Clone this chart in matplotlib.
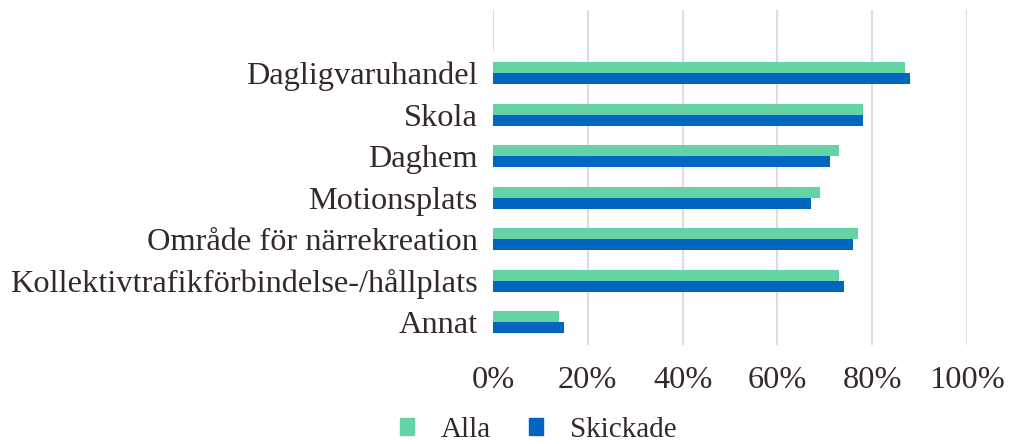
import matplotlib
matplotlib.use("Agg")
import matplotlib.pyplot as plt
from matplotlib.patches import Patch
import numpy as np

categories = ["Dagligvaruhandel", "Skola", "Daghem", "Motionsplats",
              "Område för närrekreation", "Kollektivtrafikförbindelse-/hållplats",
              "Annat"]
alla = [87, 78, 73, 69, 77, 73, 14]
skickade = [88, 78, 71, 67, 76, 74, 15]
xticks = [0, 20, 40, 60, 80, 100]
xtick_labels = ["0%", "20%", "40%", "60%", "80%", "100%"]
series_names = ["Alla", "Skickade"]

col_alla = "#64d3a6"
col_skick = "#0066c0"
text_col = "#33282a"
grid_col = "#e6d8dc"
fs = 23.3

plt.rcParams["font.family"] = ["Liberation Serif", "DejaVu Serif"]

W, H = 1011, 444
fig = plt.figure(figsize=(W / 100, H / 100), dpi=100)
left, right, top, bottom = 493, 967, 10, 345
ax = fig.add_axes([left / W, 1 - bottom / H, (right - left) / W, (bottom - top) / H])

y = np.arange(len(categories))
h = 0.265
ax.barh(y - h / 2, alla, height=h, color=col_alla, zorder=3)
ax.barh(y + h / 2, skickade, height=h, color=col_skick, zorder=3)

for v in xticks[1:]:
    ax.axvline(v, color=grid_col, lw=1.5, zorder=1)
ax.axvline(0, ymin=0.88, ymax=1.0, color=grid_col, lw=1.5, zorder=1)

ax.set_xlim(0, 100)
ax.set_ylim(6.55, -1.52)
ax.set_yticks(y)
ax.set_yticklabels(categories, fontsize=fs, color=text_col)
ax.set_xticks(xticks)
ax.set_xticklabels(xtick_labels, fontsize=fs, color=text_col)
ax.tick_params(axis="both", length=0)
ax.tick_params(axis="y", pad=11)
ax.tick_params(axis="x", pad=15)
for s in ax.spines.values():
    s.set_visible(False)

handles = [Patch(color=col_alla), Patch(color=col_skick)]
fig.legend(handles, series_names, loc="center", bbox_to_anchor=(538 / W, 1 - 430 / H),
           ncol=2, frameon=False, fontsize=21, handlelength=0.5, handleheight=0.5,
           columnspacing=1.3, handletextpad=0.9, labelcolor=text_col,
           borderpad=0.1)

fig.savefig("out.png", dpi=100, facecolor="white")
